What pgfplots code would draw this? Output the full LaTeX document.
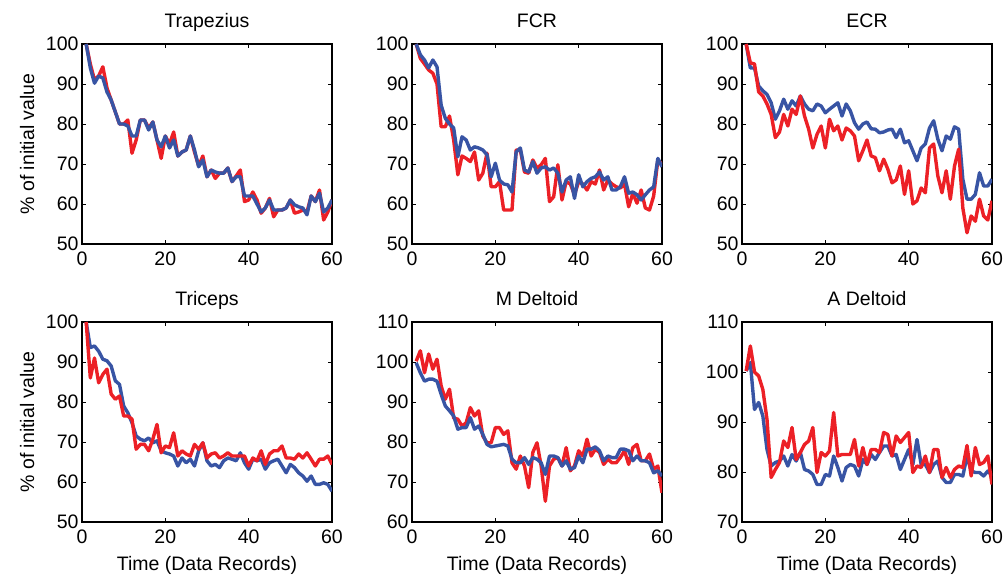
\documentclass[border=0pt]{standalone}
\usepackage{fontspec}
\setmainfont{Liberation Sans}
\usepackage{pgfplots}
\usepackage{pgfplotstable}
\pgfplotsset{compat=1.18}
\definecolor{mred}{RGB}{236,32,38}
\definecolor{mblue}{RGB}{56,84,164}

\pgfplotstableread{
t r b
1 100 100
2 95 94
3 91 90.2
4 92 92
5 94.3 91.5
6 89 88
7 86 86
8 83 83
9 80 80
10 80 80
11 81 79.5
12 72.7 77
13 76 77
14 81 81
15 81 81
16 79 78.5
17 80.5 80.5
18 76 76
19 71.4 74.3
20 77 77
21 75 74
22 78 76
23 72 72
24 73 73
25 73.5 73.5
26 77 77
27 73 73.5
28 69.5 69.3
29 72 71
30 66.8 66.8
31 68.5 68.5
32 66.4 68
33 67.7 67.7
34 67.7 67.7
35 69 69
36 65.6 65.6
37 67 66.8
38 68.5 66.8
39 60.6 62
40 61 62
41 63 62
42 61 60
43 57.7 58
44 59 59
45 61.4 61
46 56.8 58.5
47 58.5 58.5
48 58.5 58.5
49 59 59
50 61 61
51 57.7 59.8
52 58 59.3
53 58.5 59
54 58 57.3
55 62 62
56 60.6 60.6
57 63.5 62.7
58 56 58
59 58 59
60 61 61
}\trap

\pgfplotstableread{
t r b
1 100 100
2 96.4 97.3
3 95 96
4 93.5 94
5 92.7 96
6 90 94.3
7 79.3 84.7
8 79.3 81.4
9 82 80
10 76 79
11 67.3 71.8
12 72 76.8
13 71.4 76
14 70.6 73.5
15 73 74.3
16 66 74
17 67.7 73.5
18 72.7 72.3
19 64.3 66.8
20 64.3 70.2
21 65.6 66
22 58.5 65
23 58.5 64.8
24 58.5 63
25 73.5 73
26 73.5 74
27 68 68.5
28 67.7 68
29 71 70.6
30 69 67.7
31 69.8 69
32 71.4 69.3
33 60.6 68.5
34 61.8 69
35 69.8 67.7
36 61 63
37 65.6 66
38 65 66.8
39 62.3 61.4
40 65.6 67.3
41 65 64.3
42 63.5 65.6
43 65.6 66.4
44 65 66.8
45 68.5 68
46 63.5 66
47 66 66.8
48 65 63.5
49 64.3 63.5
50 64 64.3
51 65 66.8
52 59.3 62.7
53 62.7 63
54 60.2 62.3
55 63.5 61
56 59 62.3
57 58.5 63.5
58 62 64.3
59 71 71.4
60 70 69.3
}\fcr

\pgfplotstableread{
t r b
1 100 100
2 95.3 94
3 95 94
4 88 89.5
5 87 88.3
6 85 87.4
7 82.4 85.3
8 76.6 81.2
9 78 83.3
10 82.4 86.2
11 79.5 83.7
12 83.7 85.8
13 82.4 84.5
14 87 87
15 82 85
16 78.7 83.7
17 74 83.3
18 77.4 85
19 79.5 84.5
20 74 82.8
21 81.2 83.7
22 78.3 84.5
23 79.5 85.3
24 76 82
25 79 85
26 78.3 83.3
27 77 80.3
28 70.8 78.7
29 73.3 80
30 76 80.5
31 72 78.8
32 71.6 78.7
33 68.3 77.8
34 71.2 78
35 68.7 78.5
36 65.3 78.7
37 66 76.6
38 69.5 78.7
39 62.4 75.3
40 68.3 75.8
41 60 73.3
42 60.8 70.8
43 64 74
44 62.8 75
45 74 79
46 75 80.8
47 67 76.2
48 62.8 73.3
49 68.3 77
50 61.2 76.2
51 69.5 79.3
52 73.7 78.7
53 59 66.2
54 52.8 61.2
55 57 61.2
56 55.7 62.4
57 61.2 67.8
58 57 64.5
59 56 64.5
60 60.8 66.2
}\ecr

\pgfplotstableread{
t r b
1 100 100
2 86 93.6
3 91 94
4 84.8 92.7
5 86.9 90.7
6 88.2 90.3
7 82 89
8 80.7 85.3
9 81.5 84.4
10 76.5 79
11 76.5 77.3
12 75.7 74.8
13 68.2 71.5
14 69.4 70.7
15 69.4 70.3
16 67.8 71
17 70.7 69.8
18 74.4 70.3
19 67.3 67.8
20 69 67.3
21 68.6 67
22 72.3 66.5
23 66.5 64
24 67.8 66
25 67 64.8
26 66.5 65.7
27 69.4 64
28 68.2 67.8
29 69.8 69.8
30 66 65.3
31 67 64
32 67.3 64.4
33 66 63.6
34 66.5 65.3
35 67.3 66
36 66.5 65.7
37 66.5 65.3
38 66.5 67.3
39 66.5 64.8
40 64 63.2
41 66 65.7
42 65.3 65.3
43 67.8 65.7
44 64.4 63.2
45 67 64.8
46 67.8 65.3
47 67.8 65.7
48 69 64
49 66 62.3
50 66 64.4
51 65.7 63.6
52 67 62.3
53 66 61.5
54 67.3 60.2
55 65.7 61.5
56 64 59.4
57 65.7 59.4
58 65.7 59.8
59 66.5 59.4
60 64.4 57.7
}\tri

\pgfplotstableread{
t r b
1 100.2 99.8
2 102.8 97.3
3 97.3 95.2
4 102 95.7
5 98.2 95.7
6 100.7 95.2
7 94 91.9
8 90.7 89
9 93.2 87.8
10 86 86.5
11 85.7 83.2
12 84 83.6
13 84.8 83.6
14 88.6 86.1
15 86.5 83.2
16 87.8 84
17 81.5 81.9
18 79.8 79.4
19 79.8 78.8
20 83.6 79
21 83.6 79.2
22 81.9 79.4
23 82.8 79
24 74.8 75.7
25 73.2 74.8
26 76.5 74.8
27 74 76.1
28 68.6 74.4
29 77.4 76.1
30 79.8 75.7
31 74 74.8
32 65.2 71.9
33 74 76.5
34 75.7 76.5
35 76.1 76.1
36 74 74
37 78.6 75.3
38 72.8 73.2
39 74 73.6
40 77.8 76.5
41 76.5 74.8
42 80.7 78.2
43 76.5 78.2
44 78.2 78.8
45 77.4 77.8
46 74.4 75.3
47 75.7 76.5
48 74.8 76.1
49 74.8 76.1
50 76.1 78.2
51 77.8 78.2
52 74.4 77.8
53 78.6 75.3
54 79.4 76.5
55 75.3 75.3
56 75.3 75.3
57 77 74.8
58 73.2 72.3
59 74 72.8
60 67.3 71.5
}\mdel

\pgfplotstableread{
t r b
1 100.2 100.2
2 105.2 101.9
3 100 92.5
4 99.2 93.9
5 96.5 91.2
6 90.5 84.5
7 78.9 81.2
8 80.5 81.9
9 81.9 82.2
10 86.2 83.2
11 84.9 81.2
12 88.9 83.5
13 82.5 82.2
14 83.9 83.9
15 85.5 80.5
16 86.2 80.2
17 88.9 79.5
18 79.9 77.5
19 83.9 77.5
20 83.2 79.5
21 84.2 79.2
22 91.9 83.2
23 83.2 80.9
24 83.5 78.2
25 83.5 80.9
26 83.5 81.5
27 86.5 81.2
28 81.2 79.2
29 84.9 82.5
30 81.5 81.5
31 84.5 83.5
32 84.5 82.5
33 83.9 83.9
34 87.9 85.2
35 87.5 85.2
36 83.2 83.2
37 87.2 83.5
38 85.9 80.5
39 86.9 82.5
40 87.9 84.5
41 79.9 81.5
42 81.2 86.5
43 80.9 81.5
44 83.2 81.5
45 79.9 79.9
46 84.5 81.5
47 84.5 82.2
48 78.9 78.9
49 80.9 77.9
50 78.9 77.9
51 80.5 79.5
52 81.2 79.5
53 80.9 79.2
54 85.3 83.2
55 79.2 80.2
56 84.9 79.9
57 81.5 79.9
58 81.9 79.2
59 83.2 80.2
60 77.5 79.2
}\adel

\newcommand{\fs}{\fontsize{19.5}{23}\selectfont}

\pgfplotsset{
  panel/.style={
    anchor=south west,
    scale only axis,
    width=250pt, height=200pt,
    xmin=0, xmax=60, xtick={0,20,40,60},
    tick align=inside,
    major tick length=4pt,
    tick style={black, line width=0.8pt},
    axis line style={black, line width=1.2pt},
    tick label style={font=\fs},
    xticklabel style={yshift=-4.5pt},
    /pgf/number format/assume math mode=true,
    title style={font=\fs, at={(axis description cs:0.5,1)}, anchor=base, yshift=10pt},
    label style={font=\fs},
    xlabel style={at={([yshift=-48.5pt]axis description cs:0.5,0)}, anchor=base},
    ylabel style={at={([xshift=-48pt]axis description cs:0,0.5)}, anchor=base},
    clip=true,
  },
  rline/.style={mred, line width=3.4pt, line join=round, no markers},
  bline/.style={mblue, line width=3.4pt, line join=round, no markers},
}

\begin{document}
\begin{tikzpicture}
\useasboundingbox (0,0) rectangle (1003pt,575pt);

\begin{axis}[panel, at={(82pt,331pt)}, title={Trapezius}, ylabel={\% of initial value},
  ymin=50, ymax=100, ytick={50,60,...,100}]
\addplot[rline] table[x=t,y=r]{\trap};
\addplot[bline] table[x=t,y=b]{\trap};
\end{axis}

\begin{axis}[panel, at={(412pt,331pt)}, title={FCR},
  ymin=50, ymax=100, ytick={50,60,...,100}]
\addplot[rline] table[x=t,y=r]{\fcr};
\addplot[bline] table[x=t,y=b]{\fcr};
\end{axis}

\begin{axis}[panel, at={(742pt,331pt)}, title={ECR},
  ymin=50, ymax=100, ytick={50,60,...,100}]
\addplot[bline] table[x=t,y=b]{\ecr};
\addplot[rline] table[x=t,y=r]{\ecr};
\end{axis}

\begin{axis}[panel, at={(82pt,53pt)}, title={Triceps}, ylabel={\% of initial value},
  xlabel={Time (Data Records)},
  ymin=50, ymax=100, ytick={50,60,...,100}]
\addplot[bline] table[x=t,y=b]{\tri};
\addplot[rline] table[x=t,y=r]{\tri};
\end{axis}

\begin{axis}[panel, at={(412pt,53pt)}, title={M Deltoid},
  xlabel={Time (Data Records)},
  ymin=60, ymax=110, ytick={60,70,...,110}]
\addplot[rline] table[x=t,y=r]{\mdel};
\addplot[bline] table[x=t,y=b]{\mdel};
\end{axis}

\begin{axis}[panel, at={(742pt,53pt)}, title={A Deltoid},
  xlabel={Time (Data Records)},
  ymin=70, ymax=110, ytick={70,80,...,110}]
\addplot[bline] table[x=t,y=b]{\adel};
\addplot[rline] table[x=t,y=r]{\adel};
\end{axis}

\end{tikzpicture}
\end{document}
